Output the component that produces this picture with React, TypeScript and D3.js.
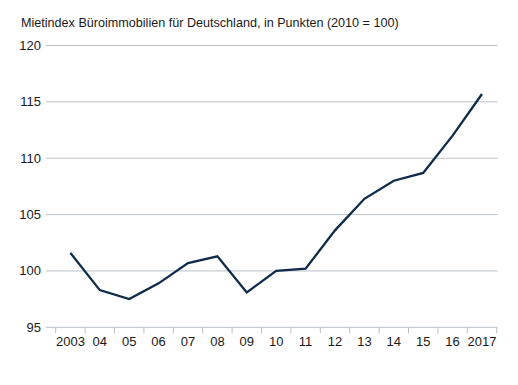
import React from "react";
import * as d3 from "d3";

const years = ["2003", "04", "05", "06", "07", "08", "09", "10", "11", "12", "13", "14", "15", "16", "2017"];
const values = [101.6, 98.3, 97.5, 98.9, 100.7, 101.3, 98.1, 100.0, 100.2, 103.6, 106.4, 108.0, 108.7, 112.0, 115.7];
const yTicks = [95, 100, 105, 110, 115, 120];
const title = "Mietindex Büroimmobilien für Deutschland, in Punkten (2010 = 100)";

export default function App() {
  const W = 518, H = 385;
  const x = d3.scaleBand<string>().domain(years).range([55.7, 496.7]).padding(0);
  const y = d3.scaleLinear().domain([95, 120]).range([327.3, 45.5]);
  const line = d3.line<number>()
    .x((_, i) => (x(years[i]) as number) + x.bandwidth() / 2)
    .y((d) => y(d));
  const font = "'Liberation Sans', Arial, sans-serif";
  const tickXs = [...years.map((yr) => x(yr) as number), 496.7];
  return (
    <svg width={W} height={H} style={{ position: "absolute", left: 0, top: 0, background: "#fff" }}>
      <text x={21} y={27} fontFamily={font} fontSize={12.6} fill="#1a1a1a">{title}</text>
      {yTicks.map((t) => (
        <g key={t}>
          <line x1={46} x2={497.5} y1={y(t)} y2={y(t)} stroke="#b9c0c7" strokeWidth={1} />
          <text x={41} y={y(t)} dy="0.35em" textAnchor="end" fontFamily={font} fontSize={13} fill="#1a1a1a">{t}</text>
        </g>
      ))}
      {tickXs.map((tx, i) => (
        <line key={i} x1={tx} x2={tx} y1={y(95)} y2={y(95) + 6} stroke="#b9c0c7" strokeWidth={1} />
      ))}
      {years.map((yr) => (
        <text key={yr} x={(x(yr) as number) + x.bandwidth() / 2} y={346} textAnchor="middle" fontFamily={font} fontSize={13} fill="#1a1a1a">{yr}</text>
      ))}
      <path d={line(values) || ""} fill="none" stroke="#0f2a4a" strokeWidth={2.3} strokeLinejoin="miter" />
    </svg>
  );
}
